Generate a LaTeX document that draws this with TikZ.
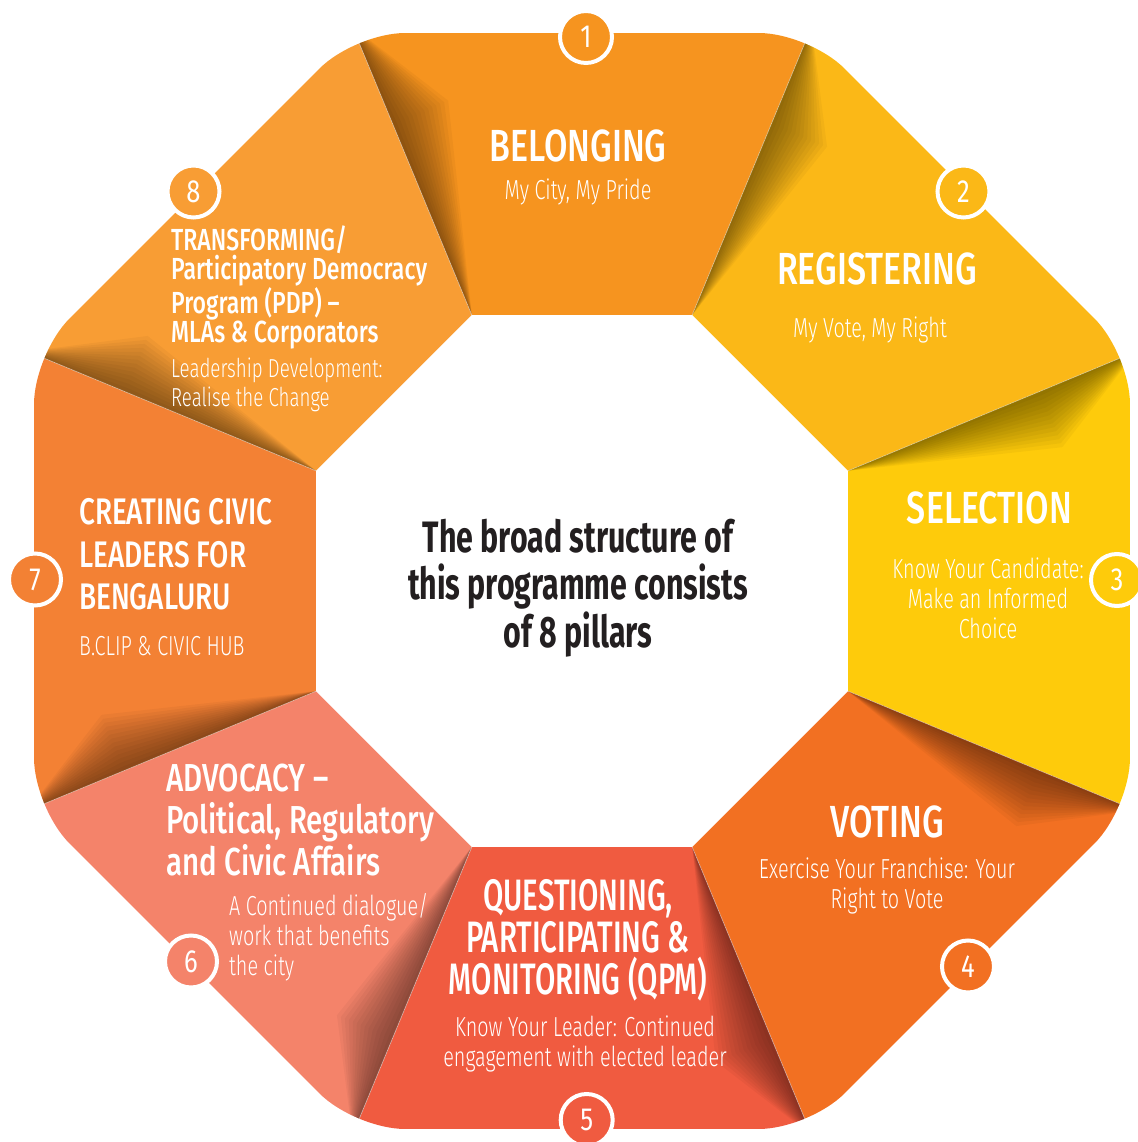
\documentclass[tikz,border=0pt]{standalone}
\usepackage{fontspec}
\usetikzlibrary{calc}
\IfFontExistsTF{Fira Sans Light}{\newfontfamily\lightf{Fira Sans Light}[FakeStretch=0.72]}{\newfontfamily\lightf{Fira Sans}[FakeStretch=0.72]}
\IfFontExistsTF{Fira Sans Medium}{%
  \newfontfamily\medf{Fira Sans Medium}[FakeStretch=0.755]%
  \newfontfamily\medn{Fira Sans Medium}[FakeStretch=0.67]}{%
  \newfontfamily\medf{Fira Sans}[FakeStretch=0.755]%
  \newfontfamily\medn{Fira Sans}[FakeStretch=0.67]}
\newfontfamily\regf{Fira Sans}[FakeStretch=0.8]
\newfontfamily\boldf{Fira Sans Bold}[FakeStretch=0.69]
\definecolor{c1}{HTML}{F6941F}
\definecolor{c2}{HTML}{FBB817}
\definecolor{c3}{HTML}{FECB0B}
\definecolor{c4}{HTML}{F27022}
\definecolor{c5}{HTML}{F05B40}
\definecolor{c6}{HTML}{F4836A}
\definecolor{c7}{HTML}{F38134}
\definecolor{c8}{HTML}{F89D34}
\definecolor{ink}{HTML}{231F20}
\tikzset{
  numc/.style={circle, draw=white, line width=4pt, minimum size=52pt, inner sep=0pt, text=white, font=\regf\fontsize{32}{32}\selectfont},
  ttl/.style={text=white, inner sep=0pt, font=\medf\fontsize{45}{42}\selectfont},
  qttl/.style={text=white, inner sep=0pt, font=\medn\fontsize{44}{42}\selectfont},
  mttl/.style={text=white, inner sep=0pt, font=\medf\fontsize{39}{42}\selectfont},
  lttl/.style={text=white, inner sep=0pt, font=\medf\fontsize{37}{42.5}\selectfont},
  sttl/.style={text=white, inner sep=0pt, font=\medf\fontsize{30.5}{29.5}\selectfont},
  sub/.style={text=white, inner sep=0pt, font=\lightf\fontsize{27.5}{30}\selectfont},
  ssub/.style={text=white, inner sep=0pt, font=\lightf\fontsize{26}{29}\selectfont},
  ctr/.style={text=ink, inner sep=0pt, font=\boldf\fontsize{44}{47}\selectfont},
  fold/.style={black, opacity=0.034},
  crease/.style={white, opacity=0.45, line width=0.7pt}
}
\begin{document}
\begin{tikzpicture}[x=1pt,y=1pt]
\useasboundingbox (-582,-561) rectangle (555,581);
% ring of eight pillars
\begin{scope}
  \clip[rounded corners=50pt] (22.5:593.15) -- (67.5:593.15) -- (112.5:593.15) -- (157.5:593.15)
     -- (202.5:593.15) -- (247.5:593.15) -- (292.5:593.15) -- (337.5:593.15) -- cycle;
  \foreach \k/\col in {0/c1,1/c2,2/c3,3/c4,4/c5,5/c6,6/c7,7/c8} {
    \begin{scope}[rotate=-45*\k]
      \fill[\col] (0,0) -- (67.5:800) -- (112.5:800) -- cycle;
    \end{scope}
  }
  \foreach \k in {0,...,7} {
    \begin{scope}[rotate=-45*\k]
      \foreach \i in {1,...,14} {
        \fill[fold] (112.5:600) -- (112.5:287.9) -- ($(112.5:495)+(22.5:{4.3*\i})$) -- cycle;
      }
      \draw[crease] (112.5:287.9) -- (112.5:600);
    \end{scope}
  }
\end{scope}
% inner white octagon
\fill[white] (22.5:287.9) -- (67.5:287.9) -- (112.5:287.9) -- (157.5:287.9)
   -- (202.5:287.9) -- (247.5:287.9) -- (292.5:287.9) -- (337.5:287.9) -- cycle;
% number badges
\node[numc, fill=c1] (n1) at (4,544) {1};
\node[numc, fill=c2] (n2) at (381.5,389.5) {2};
\node[numc, fill=c3] (n3) at (535,1) {3};
\node[numc, fill=c4] (n4) at (386,-385.5) {4};
\node[numc, fill=c5] (n5) at (4.7,-539) {5};
\node[numc, fill=c6] (n6) at (-391,-380.5) {6};
\node[numc, fill=c7] (n7) at (-547,1.5) {7};
\node[numc, fill=c8] (n8) at (-388.5,389.5) {8};
% texts (multi-line nodes are anchored at the baseline of their last line)
\node[ttl, anchor=base] (t1) at (-4,419) {BELONGING};
\node[sub, anchor=base] (s1) at (-4,381) {My City, My Pride};
\node[ttl, anchor=base] (t2) at (295,296) {REGISTERING};
\node[sub, anchor=base] (s2) at (288,243) {My Vote, My Right};
\node[ttl, anchor=base] (t3) at (407.5,57) {SELECTION};
\node[sub, anchor=base, align=center] (s3) at (406,-57) {Know Your Candidate:\\Make an Informed\\Choice};
\node[ttl, anchor=base] (t4) at (305.5,-256) {VOTING};
\node[sub, anchor=base, align=center] (s4) at (305,-327) {Exercise Your Franchise: Your\\Right to Vote};
\node[qttl, anchor=base, align=center] (t5) at (-4,-413) {QUESTIONING,\\PARTICIPATING \&\\MONITORING (QPM)};
\node[sub, anchor=base, align=center] (s5) at (3,-485) {Know Your Leader: Continued\\engagement with elected leader};
\node[mttl, anchor=base west, align=left] (t6) at (-416,-294) {ADVOCACY –\\Political, Regulatory\\and Civic Affairs};
\node[sub, anchor=base west, align=left] (s6) at (-353,-394) {A Continued dialogue/\\work that benefits\\the city};
\node[lttl, anchor=base west, align=left] (t7) at (-503,-29) {CREATING CIVIC\\LEADERS FOR\\BENGALURU};
\node[sub, anchor=base west] (s7) at (-503,-75) {B.CLIP \& CIVIC HUB};
\node[sttl, anchor=base west, align=left] (t8) at (-411,238) {TRANSFORMING/\\Participatory Democracy\\Program (PDP) –\\MLAs \& Corporators};
\node[ssub, anchor=base west, align=left] (s8) at (-411,174) {Leadership Development:\\Realise the Change};
\node[ctr, anchor=base, align=center] (c) at (-4,-66) {The broad structure of\\this programme consists\\of 8 pillars};
\end{tikzpicture}
\end{document}
